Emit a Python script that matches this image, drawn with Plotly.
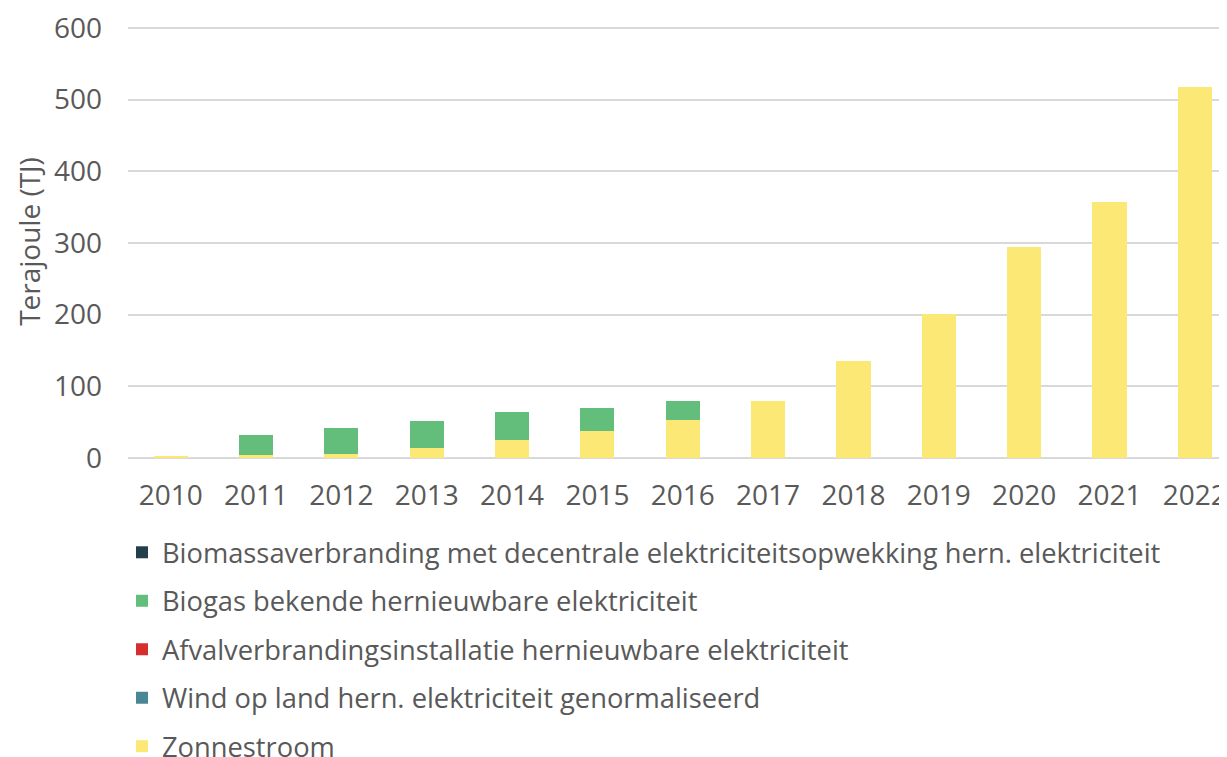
import plotly.graph_objects as go

years = ["2010", "2011", "2012", "2013", "2014", "2015", "2016",
         "2017", "2018", "2019", "2020", "2021", "2022"]
zonnestroom = [2.5, 3.6, 5.9, 13.3, 25.3, 37.4, 53.5, 79.8, 136, 201, 294, 357.6, 517]
biogas = [0, 28.3, 36.1, 38.4, 38.4, 32.3, 26.3, 0, 0, 0, 0, 0, 0]
wind = [0] * 13
afval = [0] * 13
biomassa = [0] * 13

names = {
    "biomassa": "Biomassaverbranding met decentrale elektriciteitsopwekking hern. elektriciteit",
    "biogas": "Biogas bekende hernieuwbare elektriciteit",
    "afval": "Afvalverbrandingsinstallatie hernieuwbare elektriciteit",
    "wind": "Wind op land hern. elektriciteit genormaliseerd",
    "zon": "Zonnestroom",
}
colors = {
    "biomassa": "#243f4c",
    "biogas": "#63be7b",
    "afval": "#d62d2d",
    "wind": "#4a8795",
    "zon": "#fce874",
}
legend_rank = {"biomassa": 1, "biogas": 2, "afval": 3, "wind": 4, "zon": 5}

FONT = "Open Sans"
TXT = "#595959"

fig = go.Figure()
# bottom to top stacking order
for key, vals in [("zon", zonnestroom), ("wind", wind), ("afval", afval),
                  ("biogas", biogas), ("biomassa", biomassa)]:
    fig.add_trace(go.Bar(
        x=years, y=vals, name=names[key], legendgroup=key,
        legendrank=legend_rank[key],
        marker=dict(color=colors[key], line=dict(width=0)),
    ))

# the page body adds 8px around the figure, so the figure is sized to fit the window
fig.update_layout(
    width=1219, height=749,
    barmode="stack", bargap=0.6,
    plot_bgcolor="white", paper_bgcolor="white",
    margin=dict(l=120, r=0, t=14, b=299),
    font=dict(family=FONT, size=26, color=TXT),
    xaxis=dict(range=[-0.5, 12.33], showgrid=False, ticks="", ticklabelstandoff=18,
               showline=False, zeroline=False, tickfont=dict(size=28, color=TXT),
               ticklabeloverflow="allow"),
    yaxis=dict(range=[0, 604], tick0=0, dtick=100, showgrid=True, gridcolor="#d9d9d9",
               gridwidth=1.5, zeroline=True, zerolinecolor="#d9d9d9", zerolinewidth=1.5,
               ticklabelstandoff=25, tickfont=dict(size=28, color=TXT),
               ticklabeloverflow="allow",
               title=dict(text="Terajoule (TJ)", standoff=5, font=dict(size=28, color=TXT))),
    legend=dict(orientation="v", x=-0.0055, xanchor="left",
                yref="container", y=0.3057, yanchor="top",
                traceorder="grouped", tracegroupgap=10,
                itemwidth=30, font=dict(size=27.3, color=TXT)),
    showlegend=True,
)

fig.write_html("out.html")
